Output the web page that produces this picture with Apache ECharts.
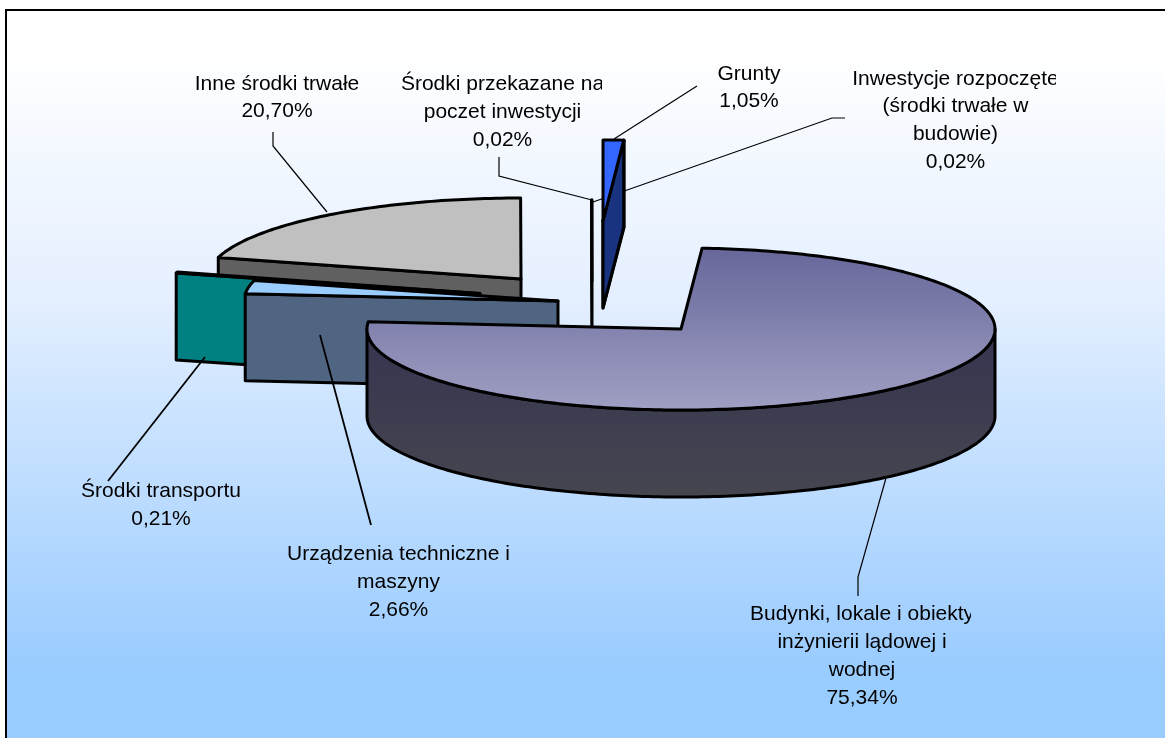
<!DOCTYPE html>
<html>
<head>
<meta charset="utf-8">
<style>
  html, body { margin: 0; padding: 0; background: #fff; }
  #chart { width: 1165px; height: 738px; }
</style>
<script src="https://cdn.jsdelivr.net/npm/echarts@6/dist/echarts.min.js"></script>
</head>
<body>
<div id="chart"></div>
<script>
// slice order follows the pie, clockwise from 12 o'clock
const categories = [
  "Grunty",
  "Inwestycje rozpoczęte\n(środki trwałe w\nbudowie)",
  "Budynki, lokale i obiekty\ninżynierii lądowej i\nwodnej",
  "Urządzenia techniczne i\nmaszyny",
  "Środki transportu",
  "Inne środki trwałe",
  "Środki przekazane na\npoczet inwestycji"
];
const shares = [1.05, 0.02, 75.34, 2.66, 0.21, 20.70, 0.02];

// pie look, one entry per slice
const topColors = [["#3366ff", "#3366ff"], ["#3366ff", "#3366ff"], ["#66669a", "#a0a0c4"], ["#99ccff", "#99ccff"], ["#00a0a0", "#00a0a0"], ["#c0c0c0", "#c0c0c0"], ["#ffffff", "#ffffff"]];
const sideColors = ["#1a3380", "#1a3380", "#3f3f50", "#4f6582", "#008080", "#606060", "#ffffff"];
const sliceCentres = [[603, 221], [603, 221], [681, 329], [558, 301], [480, 293.5], [521, 279], [592, 281]];
const drawRank = [5, 4, 10, 8, 7, 2, 3];
const radiusX = 314, radiusY = 81, depth = 87;

const labelBoxes = [
  { x: 749, y: 74 },
  { x: 955.5, y: 79, lineHeight: 27.7, clipRight: 1056 },
  { x: 862, y: 614, lineHeight: 28, clipRight: 971 },
  { x: 398.5, y: 554, lineHeight: 28, clipRight: 509 },
  { x: 161, y: 491, lineHeight: 28 },
  { x: 277, y: 84 },
  { x: 502.5, y: 84, lineHeight: 28, clipRight: 602 }
];
const leaders = [
  [[697, 86], [614, 139]],
  [[845, 118], [832, 118], [593, 202]],
  [[858, 596], [858, 577], [886, 478]],
  [[371, 525], [320, 335]],
  [[108, 481], [205, 357]],
  [[273, 132], [273, 146], [327, 212]],
  [[499, 157], [499, 176], [592, 200]]
];
const leaderRank = [6, 1, 11, 9, 7, 2, 3];
const leaderWidths = [1.2, 1.2, 1.2, 1.8, 1.8, 1.2, 1.2];

const total = 100;
const toAngle = v => echarts.number.linearMap(v, [0, total], [0, 360]);

function rimPoint(c, deg, drop) {
  const r = deg * Math.PI / 180;
  return [c[0] + radiusX * Math.sin(r), c[1] - radiusY * Math.cos(r) + (drop || 0)];
}

function face(points, fill, z2) {
  return {
    type: "polygon",
    z2: z2,
    shape: { points: points },
    style: { fill: fill, stroke: "#000", lineWidth: 3, lineJoin: "round" }
  };
}

function renderSlice(params, api) {
  const i = params.dataIndex;
  const c = sliceCentres[i];
  let before = 0;
  for (let k = 0; k < i; k++) before += shares[k];
  const a = toAngle(before);
  const b = toAngle(before + api.value(0));
  const z = drawRank[i] * 10;
  const children = [];

  // radial walls, only those facing the viewer
  const radial = deg => [c, rimPoint(c, deg), rimPoint(c, deg, depth), [c[0], c[1] + depth]];
  if (Math.sin(a * Math.PI / 180) < 0) children.push(face(radial(a), sideColors[i], z));
  if (Math.sin(b * Math.PI / 180) > 0) children.push(face(radial(b), sideColors[i], z + 1));

  // outer wall on the front half of the rim
  const from = Math.max(a, 90), to = Math.min(b, 270);
  if (to > from) {
    const upper = [], lower = [];
    for (let d = from; d < to; d += 1) {
      upper.push(rimPoint(c, d));
      lower.unshift(rimPoint(c, d, depth));
    }
    upper.push(rimPoint(c, to));
    lower.unshift(rimPoint(c, to, depth));
    children.push(face(upper.concat(lower), {
      type: "linear", x: 0, y: 0, x2: 0, y2: 1,
      colorStops: [{ offset: 0, color: "#343450" }, { offset: 1, color: "#464650" }]
    }, z + 2));
  }

  // top of the slice
  const topPts = [c];
  for (let d = a; d < b; d += 1) topPts.push(rimPoint(c, d));
  topPts.push(rimPoint(c, b));
  children.push(face(topPts, {
    type: "linear", x: 0, y: 0, x2: 0, y2: 1,
    colorStops: [{ offset: 0, color: topColors[i][0] }, { offset: 1, color: topColors[i][1] }]
  }, z + 3));

  // leader line
  children.push({
    type: "polyline",
    z2: leaderRank[i] * 10 + 5,
    shape: { points: leaders[i] },
    style: { fill: null, stroke: "#000", lineWidth: leaderWidths[i] }
  });

  // label, some boxes cut their text off on the right
  const box = labelBoxes[i];
  const lh = box.lineHeight || 27;
  const text = {
    type: "text",
    z2: 500,
    style: {
      x: box.x,
      y: box.y - lh / 2,
      text: categories[i] + "\n" + api.value(0).toFixed(2).replace(".", ",") + "%",
      font: '21px "Liberation Sans", Arial, sans-serif',
      fill: "#000",
      align: "center",
      verticalAlign: "top",
      lineHeight: lh
    }
  };
  if (box.clipRight) {
    text.clipPath = { type: "rect", shape: { x: 0, y: 0, width: box.clipRight, height: 738 } };
  }
  children.push(text);

  return { type: "group", children: children };
}

const chart = echarts.init(document.getElementById("chart"));
chart.setOption({
  animation: false,
  backgroundColor: "#fff",
  graphic: [{
    type: "rect",
    z: -1,
    silent: true,
    shape: { x: 6, y: 10, width: 1200, height: 760 },
    style: {
      stroke: "#000",
      lineWidth: 2,
      fill: {
        type: "linear", x: 0, y: 0, x2: 0, y2: 1,
        colorStops: [
          { offset: 0, color: "#ffffff" },
          { offset: 0.06, color: "#ffffff" },
          { offset: 0.19, color: "#f3f8ff" },
          { offset: 0.38, color: "#e4efff" },
          { offset: 0.51, color: "#cfe5ff" },
          { offset: 0.83, color: "#9fceff" },
          { offset: 0.87, color: "#99ccff" },
          { offset: 1, color: "#99ccff" }
        ]
      }
    }
  }],
  series: [{
    type: "custom",
    coordinateSystem: "none",
    silent: true,
    clip: false,
    data: shares,
    renderItem: renderSlice
  }]
});
</script>
</body>
</html>
